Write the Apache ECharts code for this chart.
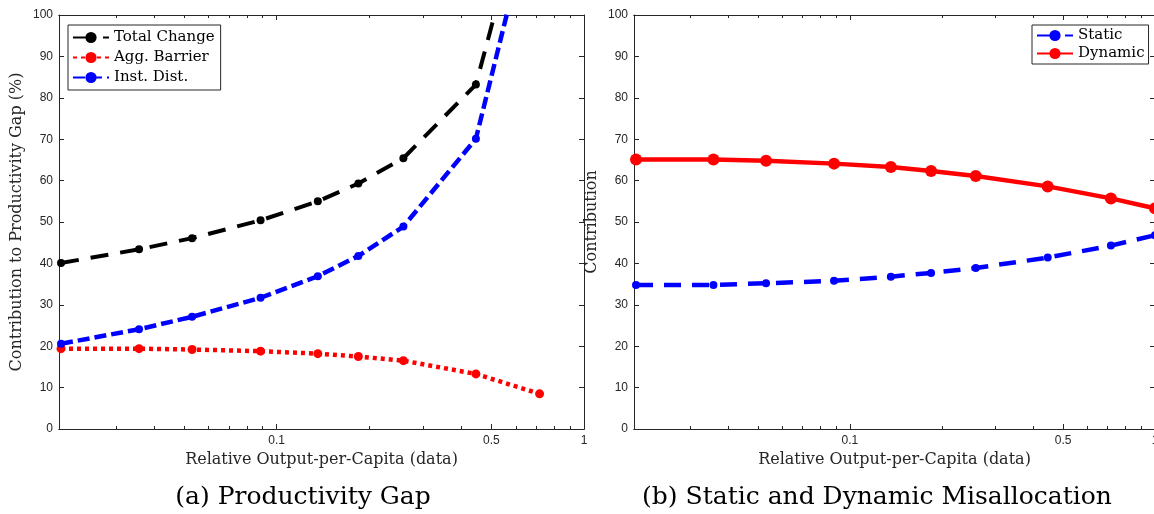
<!DOCTYPE html>
<html>
<head>
<meta charset="utf-8">
<script src="https://cdn.jsdelivr.net/npm/echarts@6/dist/echarts.min.js"></script>
<style>
  html, body { margin: 0; padding: 0; background: #fff; }
  #chart { width: 1154px; height: 514px; }
</style>
</head>
<body>
<div id="chart"></div>
<script>
// relative output-per-capita (data), shared by both panels
var xData = [0.0199, 0.0357, 0.0531, 0.0887, 0.1362, 0.1845, 0.2585, 0.445, 0.717, 1.0];

// (a) productivity gap
var totalChange = [40.1, 43.4, 46.1, 50.4, 55.0, 59.3, 65.4, 83.2, 140.7];
var aggBarrier  = [19.4, 19.4, 19.2, 18.8, 18.2, 17.5, 16.5, 13.3, 8.5];
var instDist    = [20.6, 24.1, 27.1, 31.7, 36.9, 41.8, 48.9, 70.1, 132.0];

// (b) static and dynamic misallocation
var staticMis  = [34.8, 34.8, 35.2, 35.8, 36.8, 37.7, 38.9, 41.4, 44.3, 46.8];
var dynamicMis = [65.1, 65.1, 64.8, 64.1, 63.3, 62.3, 61.1, 58.6, 55.7, 53.3];

var majorTicks = [0.1, 0.5, 1];
var minorTicks = [0.03, 0.04, 0.05, 0.06, 0.07, 0.08, 0.09,
                  0.2, 0.3, 0.4, 0.6, 0.7, 0.8, 0.9];

function pairs(ys) {
    var out = [];
    for (var i = 0; i < ys.length; i++) out.push([xData[i], ys[i]]);
    return out;
}

var axisColor = '#262626';
var serif = 'DejaVu Serif';

function logAxis(grid, pos, major, withLabel, name) {
    return {
        type: 'log',
        logBase: 10,
        gridIndex: grid,
        position: pos,
        min: 0.0196,
        max: 1,
        name: name || '',
        nameLocation: 'middle',
        nameGap: 20,
        nameTextStyle: {fontFamily: serif, fontSize: 16, color: axisColor},
        axisLine: {show: true, lineStyle: {color: axisColor, width: 1}},
        axisTick: {
            show: true,
            inside: true,
            length: major ? 5 : 3,
            customValues: major ? majorTicks : minorTicks,
            lineStyle: {color: axisColor}
        },
        axisLabel: {
            show: withLabel,
            customValues: majorTicks,
            margin: 6,
            fontFamily: 'Liberation Sans',
            fontSize: 12,
            color: axisColor
        },
        splitLine: {show: false},
        minorTick: {show: false}
    };
}

function valAxis(grid, pos, withLabel, name, gap) {
    return {
        type: 'value',
        gridIndex: grid,
        position: pos,
        min: 0,
        max: 100,
        interval: 10,
        name: name || '',
        nameLocation: 'middle',
        nameGap: gap || 40,
        nameTextStyle: {fontFamily: serif, fontSize: 16, color: axisColor},
        axisLine: {show: true, lineStyle: {color: axisColor, width: 1}},
        axisTick: {show: true, inside: true, length: 5, lineStyle: {color: axisColor}},
        axisLabel: {show: withLabel, margin: 6, fontFamily: 'Liberation Sans', fontSize: 12, color: axisColor},
        splitLine: {show: false}
    };
}

var chart = echarts.init(document.getElementById('chart'));
var option = {
    backgroundColor: '#fff',
    animation: false,
    title: [
        {text: '(a) Productivity Gap', left: 298, top: 480, textAlign: 'center',
         textStyle: {fontFamily: serif, fontSize: 25, fontWeight: 'normal', color: '#000'}},
        {text: '(b) Static and Dynamic Misallocation', left: 872, top: 480, textAlign: 'center',
         textStyle: {fontFamily: serif, fontSize: 25, fontWeight: 'normal', color: '#000'}}
    ],
    legend: [
        {
            data: ['Total Change', 'Agg. Barrier', 'Inst. Dist.'],
            orient: 'vertical',
            left: 68, top: 25,
            padding: [5, 6, 5, 4],
            itemGap: 5,
            itemWidth: 36, itemHeight: 14,
            backgroundColor: '#fff',
            borderColor: axisColor, borderWidth: 1, borderRadius: 0,
            textStyle: {fontFamily: serif, fontSize: 15, color: '#000'}
        },
        {
            data: ['Static', 'Dynamic'],
            orient: 'vertical',
            left: 1032, top: 25,
            padding: [3, 4, 3, 4],
            itemGap: 3,
            itemWidth: 36, itemHeight: 14,
            backgroundColor: '#fff',
            borderColor: axisColor, borderWidth: 1, borderRadius: 0,
            textStyle: {fontFamily: serif, fontSize: 15, color: '#000'}
        }
    ],
    grid: [
        {left: 59, right: 570, top: 15, bottom: 85, outerBoundsMode: 'none'},
        {left: 634, right: -1, top: 15, bottom: 85, outerBoundsMode: 'none'}
    ],
    xAxis: [
        logAxis(0, 'bottom', true, true, 'Relative Output-per-Capita (data)'),
        logAxis(0, 'bottom', false, false),
        logAxis(0, 'top', true, false),
        logAxis(0, 'top', false, false),
        logAxis(1, 'bottom', true, true, 'Relative Output-per-Capita (data)'),
        logAxis(1, 'bottom', false, false),
        logAxis(1, 'top', true, false),
        logAxis(1, 'top', false, false)
    ],
    yAxis: [
        valAxis(0, 'left', true, 'Contribution to Productivity Gap (%)', 34),
        valAxis(0, 'right', false),
        valAxis(1, 'left', true, 'Contribution', 34),
        valAxis(1, 'right', false)
    ],
    series: [
        {
            name: 'Total Change', type: 'line', xAxisIndex: 0, yAxisIndex: 0,
            data: pairs(totalChange), clip: true,
            symbol: 'circle', symbolSize: 8,
            itemStyle: {color: '#000'},
            lineStyle: {color: '#000', width: 4, type: [18, 12]}
        },
        {
            name: 'Agg. Barrier', type: 'line', xAxisIndex: 0, yAxisIndex: 0,
            data: pairs(aggBarrier), clip: true,
            symbol: 'circle', symbolSize: 9,
            itemStyle: {color: '#ff0000'},
            lineStyle: {color: '#ff0000', width: 4.5, type: [4, 4]}
        },
        {
            name: 'Inst. Dist.', type: 'line', xAxisIndex: 0, yAxisIndex: 0,
            data: pairs(instDist), clip: true,
            symbol: 'circle', symbolSize: 8,
            itemStyle: {color: '#0000ff'},
            lineStyle: {color: '#0000ff', width: 4.5, type: [12, 5]}
        },
        {
            name: 'Static', type: 'line', xAxisIndex: 4, yAxisIndex: 2,
            data: pairs(staticMis), clip: true,
            symbol: 'circle', symbolSize: 8,
            itemStyle: {color: '#0000ff'},
            lineStyle: {color: '#0000ff', width: 4.5, type: [17, 11]}
        },
        {
            name: 'Dynamic', type: 'line', xAxisIndex: 4, yAxisIndex: 2,
            data: pairs(dynamicMis), clip: true,
            symbol: 'circle', symbolSize: 12,
            itemStyle: {color: '#ff0000'},
            lineStyle: {color: '#ff0000', width: 4.5}
        }
    ]
};
chart.setOption(option);
</script>
</body>
</html>
